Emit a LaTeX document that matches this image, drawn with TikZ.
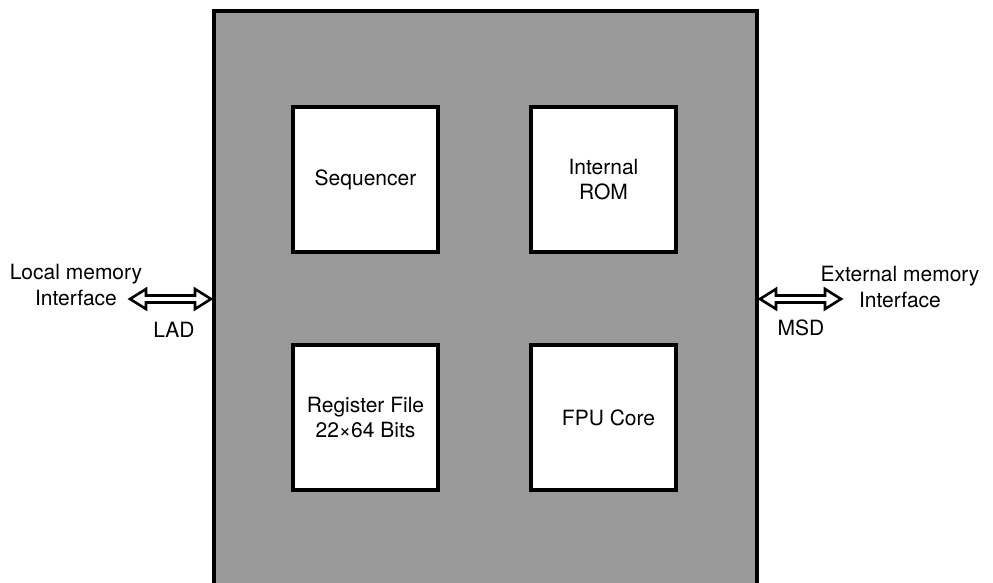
\documentclass[tikz,border=0pt]{standalone}
\usepackage{fontspec}
\setmainfont{TeX Gyre Heros}
\usetikzlibrary{calc}
\begin{document}
\begin{tikzpicture}[x=1pt,y=-1pt,
  chipbox/.style={draw=black, line width=4pt, fill=black!40, minimum width=543pt, minimum height=700pt, inner sep=0pt},
  unitbox/.style={draw=black, line width=4pt, fill=white, minimum width=145pt, minimum height=145pt, inner sep=0pt, align=center, font=\fontsize{21}{25}\selectfont},
  lbl/.style={font=\fontsize{21}{26}\selectfont, align=center, inner sep=0pt},
  busarrow/.style={draw=black, fill=white, line width=2.6pt, line join=miter}]
\clip (0,0) rectangle (993,582);
\node[chipbox] (chip) at (485.5,361) {};
\node[unitbox] (seq) at (365.5,179.5) {Sequencer};
\node[unitbox] (rom) at (603.5,179.5) {Internal\\ROM};
\node[unitbox] (reg) at (365.5,417.5) {Register File\\22×64 Bits};
\node[unitbox] (fpu) at (603.5,417.5) {\hspace*{10pt}FPU Core};
\node[lbl] (lmi) at (76,285) {Local memory\\Interface};
\node[lbl] (lad) at (174,330) {LAD};
\node[lbl] (emi) at (900,287) {External memory\\Interface};
\node[lbl] (msd) at (801,328) {MSD};
\coordinate (la) at (130,299);
\coordinate (lb) at ($(chip.west |- la)+(-1,0)$);
\coordinate (rb) at (841,299);
\coordinate (ra) at ($(chip.east |- rb)+(1,0)$);
\draw[busarrow] (la) -- ++(16,-10) -- ++(0,6.5) -- ($(lb)+(-16,-3.5)$) -- ++(0,-6.5) -- (lb)
  -- ++(-16,10) -- ++(0,-6.5) -- ($(la)+(16,3.5)$) -- ++(0,6.5) -- cycle;
\draw[busarrow] (ra) -- ++(16,-10) -- ++(0,6.5) -- ($(rb)+(-16,-3.5)$) -- ++(0,-6.5) -- (rb)
  -- ++(-16,10) -- ++(0,-6.5) -- ($(ra)+(16,3.5)$) -- ++(0,6.5) -- cycle;
\end{tikzpicture}
\end{document}
